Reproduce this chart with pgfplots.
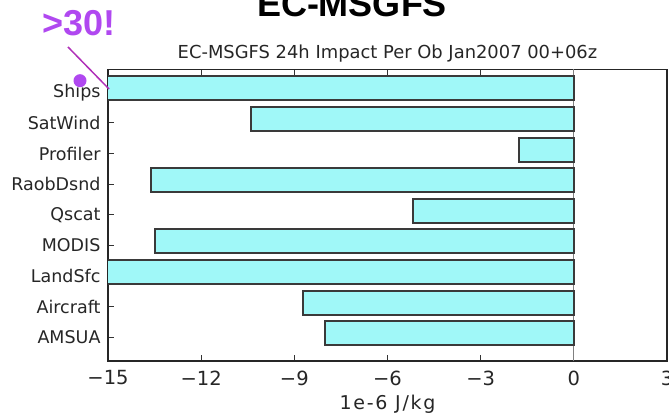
\documentclass[border=0pt]{standalone}
\usepackage{pgfplots}
\pgfplotsset{compat=1.18}
\usepackage{fontspec}
\setmainfont{DejaVu Sans}
\newfontfamily\arialfont{Liberation Sans}
\newfontfamily\spacedfont{DejaVu Sans}[LetterSpace=9]
\definecolor{barfill}{HTML}{A0F8F8}
\definecolor{baredge}{HTML}{3A3A3A}
\definecolor{purp}{HTML}{B048F0}
\definecolor{purpline}{HTML}{B030B8}
\begin{document}
\begin{tikzpicture}[x=1pt,y=1pt]
\useasboundingbox (0,0) rectangle (669,414);
\begin{axis}[
 at={(108pt,53pt)}, anchor=south west, scale only axis,
 width=559pt, height=291.7pt,
 xmin=-15, xmax=3, ymin=-0.774, ymax=8.751,
 xbar, bar width=24pt, bar shift=4pt,
 xtick={-15,-12,...,3}, xticklabels={−15,−12,−9,−6,−3,0,3},
 ytick={0,...,8},
 yticklabels={AMSUA,Aircraft,LandSfc,MODIS,Qscat,RaobDsnd,Profiler,SatWind,Ships},
 tick align=inside, xtick pos=both, ytick pos=left,
 major tick length=6pt,
 axis line style={color=black!85, line width=1.5pt},
 tick style={black!80, line width=0.9pt},
 xticklabel style={font=\fontsize{19.5}{20}\selectfont, text=black!85, yshift=-6pt},
 yticklabel style={font=\fontsize{17.5}{18}\selectfont, text=black!85, xshift=-4pt},
 xlabel={1e-6 J/kg},
 xlabel style={font=\spacedfont\fontsize{19}{20}\selectfont, text=black!85, at={(axis description cs:0.5,-0.15)}, anchor=center},
 title={EC-MSGFS 24h Impact Per Ob Jan2007 00+06z},
 title style={font=\fontsize{17.9}{19}\selectfont, text=black!85, at={(axis description cs:0.5,1.035)}, anchor=center},
]
\draw[black!50, line width=0.8pt] (axis cs:0,-0.774) -- (axis cs:0,8.751);
\addplot[fill=barfill, draw=baredge, line width=2pt] coordinates {
 (-8.02,0) (-8.72,1) (-16,2) (-13.48,3) (-5.19,4) (-13.6,5) (-1.76,6) (-10.39,7) (-32,8)
};
\end{axis}
\node[anchor=base, inner sep=0, font=\arialfont\bfseries\fontsize{36}{36}\selectfont] at (352,397) {EC-MSGFS};
\node[anchor=center, inner sep=0, text=purp, font=\arialfont\bfseries\fontsize{36}{36}\selectfont] at (79,390.5) {>30!};
\draw[purpline, line width=1.5pt] (68,367) -- (109,325);
\fill[purp] (80,333.3) circle (6.5);
\end{tikzpicture}
\end{document}
